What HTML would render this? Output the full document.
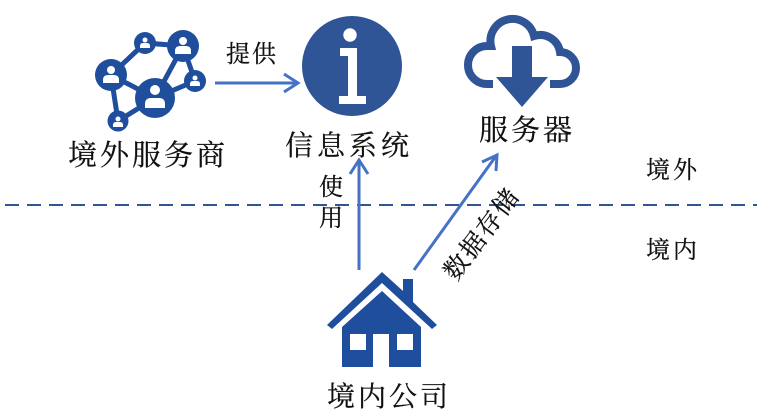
<!DOCTYPE html>
<html>
<head>
<meta charset="utf-8">
<style>
html,body{margin:0;padding:0;background:#fff;width:763px;height:414px;overflow:hidden}
svg{display:block}
text{font-family:"Liberation Serif","Noto Serif CJK SC",serif;fill:#111;stroke:#111;stroke-width:.25;font-weight:400}
</style>
</head>
<body>
<svg width="763" height="414" viewBox="0 0 763 414" xmlns="http://www.w3.org/2000/svg">
<rect width="763" height="414" fill="#fff"/>

<!-- network icon -->
<g stroke="#1f4e9c" stroke-width="5" fill="none">
<path d="M111 75L145 43L183 46L155 98L111 75M183 46L195 81L155 98L118 121L111 75"/>
</g>
<g fill="#1f4e9c">
<circle cx="155" cy="98" r="20"/>
<circle cx="183" cy="46" r="16"/>
<circle cx="145" cy="43" r="11"/>
<circle cx="111" cy="75" r="16"/>
<circle cx="195" cy="81" r="11"/>
<circle cx="118" cy="121" r="10.5"/>
</g>
<g fill="#fff">
<circle cx="155" cy="90" r="5"/><path d="M145 108v-4q0-6 6-6h8q6 0 6 6v4z"/>
<circle cx="183" cy="41" r="4"/><path d="M175 54v-3q0-5 5-5h6q5 0 5 5v3z"/>
<circle cx="145" cy="40" r="2.5"/><path d="M140 48v-2q0-3 3-3h4q3 0 3 3v2z"/>
<circle cx="111" cy="70" r="4"/><path d="M103 83v-3q0-5 5-5h6q5 0 5 5v3z"/>
<circle cx="195" cy="78" r="2.5"/><path d="M190 86v-2q0-3 3-3h4q3 0 3 3v2z"/>
<circle cx="118" cy="119" r="2.5"/><path d="M113 127v-2q0-3 3-3h4q3 0 3 3v2z"/>
</g>

<!-- info icon -->
<circle cx="352" cy="66" r="50" fill="#2f5597"/>
<circle cx="350" cy="35" r="6.7" fill="#fff"/>
<path d="M340 48H357V96H366V104H339V96H348V56H340Z" fill="#fff"/>

<!-- cloud icon -->
<path d="M493 84H487A19 19 0 0 1 487 46H491A22 22 0 0 1 534 36A20 20 0 0 1 560 52A16 16 0 0 1 560 84H550" fill="none" stroke="#2f5597" stroke-width="8"/>
<path d="M512 46H532V77H548L522 107L496 77H512Z" fill="#2f5597"/>

<!-- house icon -->
<path d="M327 325L382 272L403 291V279H413V302L437 325L432 329L382 283L332 329Z" fill="#1f4e9c"/>
<path d="M382 291L421 327V367H389V334H373V367H342V327Z" fill="#1f4e9c"/>
<rect x="350" y="334" width="16" height="16" fill="#fff"/>
<rect x="397" y="334" width="16" height="16" fill="#fff"/>

<!-- dashed boundary -->
<line x1="5" y1="205" x2="757" y2="205" stroke="#2f5597" stroke-width="2" stroke-dasharray="14 8"/>

<!-- arrows -->
<g stroke="#4472c4" stroke-width="3" fill="none">
<path d="M215 83H297M284 74L298 83L284 92"/>
<path d="M359 270V161M350 174L359 160L368 174"/>
<path d="M414 270L496 156M482 162L497 155L496 171"/>
</g>

<!-- labels -->
<text x="68" y="165" font-size="29" letter-spacing="3">境外服务商</text>
<text x="285" y="155" font-size="28" letter-spacing="4">信息系统</text>
<text x="479" y="140" font-size="29" letter-spacing="3">服务器</text>
<text x="226" y="62" font-size="24" letter-spacing="2">提供</text>
<text x="646" y="178" font-size="24" letter-spacing="3">境外</text>
<text x="646" y="258" font-size="24" letter-spacing="3">境内</text>
<text x="319" y="195" font-size="24">使</text>
<text x="319" y="226" font-size="24">用</text>
<text x="327" y="406" font-size="28" letter-spacing="3">境内公司</text>
<text transform="translate(456,282) rotate(-53)" font-size="25" letter-spacing="2">数据存储</text>
</svg>
</body>
</html>
